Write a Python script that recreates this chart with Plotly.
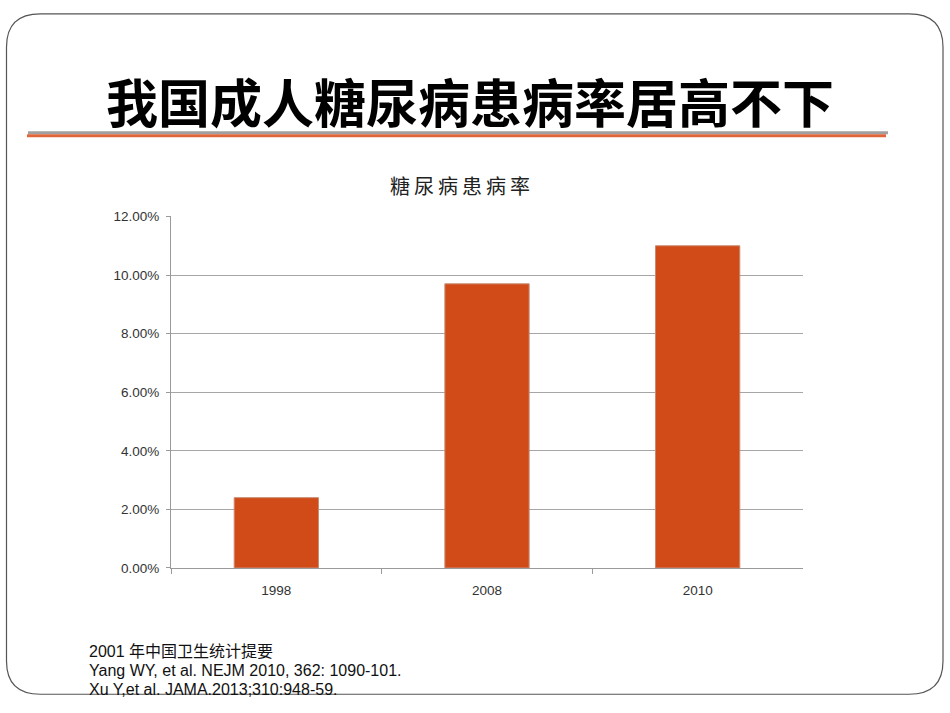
import plotly.graph_objects as go

W, H = 950, 713

categories = ["1998", "2008", "2010"]
prevalence = [0.024, 0.097, 0.110]
y_ticks = [0, 0.02, 0.04, 0.06, 0.08, 0.10, 0.12]
y_tick_labels = ["0.00%", "2.00%", "4.00%", "6.00%", "8.00%", "10.00%", "12.00%"]

slide_title = "我国成人糖尿病患病率居高不下"
chart_title = "糖尿病患病率"
footnotes = ["2001 年中国卫生统计提要",
             "Yang WY, et al. NEJM 2010, 362: 1090-101.",
             "Xu Y,et al. JAMA.2013;310:948-59."]

def px(x):
    return x / W

def py(y):
    return 1 - y / H

fig = go.Figure()
fig.add_trace(go.Bar(
    x=categories, y=prevalence,
    marker=dict(color="#D14B19", line=dict(color="#C98A70", width=1)),
    hoverinfo="x+y",
))

# plot area in pixels
L, R, T, B = 171, 803, 214, 573

fig.update_layout(
    width=W, height=H,
    margin=dict(l=0, r=0, t=0, b=0),
    paper_bgcolor="white", plot_bgcolor="white",
    showlegend=False,
    bargap=0.6,
    font=dict(family="Liberation Sans, Arial, sans-serif", color="#333333"),
    xaxis=dict(
        domain=[px(L), px(R)],
        type="category",
        showgrid=False,
        showline=True, linecolor="#9a9a9a", linewidth=1,
        ticks="outside", tickson="boundaries", ticklen=5, tickcolor="#9a9a9a",
        ticklabelstandoff=10,
        tickfont=dict(size=13.5, color="#333333"),
        zeroline=False,
    ),
    yaxis=dict(
        domain=[py(B), py(T)],
        range=[0, 0.12],
        tickvals=y_ticks, ticktext=y_tick_labels,
        showgrid=True, gridcolor="#a6a6a6", gridwidth=1,
        showline=True, linecolor="#9a9a9a", linewidth=1,
        ticks="outside", ticklen=4, tickcolor="#9a9a9a",
        ticklabelstandoff=4,
        tickfont=dict(size=13.5, color="#333333"),
        zeroline=False,
    ),
)

# slide border (rounded rectangle)
x0, x1, y0, y1, r = 6.5, 943, 7, 702, 34
path = (
    f"M {px(x0 + r)} {py(y0)} L {px(x1 - r)} {py(y0)} "
    f"Q {px(x1)} {py(y0)} {px(x1)} {py(y0 + r)} "
    f"L {px(x1)} {py(y1 - r)} "
    f"Q {px(x1)} {py(y1)} {px(x1 - r)} {py(y1)} "
    f"L {px(x0 + r)} {py(y1)} "
    f"Q {px(x0)} {py(y1)} {px(x0)} {py(y1 - r)} "
    f"L {px(x0)} {py(y0 + r)} "
    f"Q {px(x0)} {py(y0)} {px(x0 + r)} {py(y0)} Z"
)
fig.add_shape(type="path", path=path, xref="paper", yref="paper",
              line=dict(color="#555555", width=1.2), layer="above")

# title underlines
fig.add_shape(type="line", xref="paper", yref="paper",
              x0=px(28), x1=px(888), y0=py(128.5), y1=py(128.5),
              line=dict(color="#A0A0A0", width=3))
fig.add_shape(type="line", xref="paper", yref="paper",
              x0=px(27), x1=px(886), y0=py(131.5), y1=py(131.5),
              line=dict(color="#E0653A", width=3))

# slide title
fig.add_annotation(text=f"<b>{slide_title}</b>", xref="paper", yref="paper",
                   x=px(470), y=py(95), showarrow=False,
                   xanchor="center", yanchor="middle",
                   font=dict(family="Noto Sans CJK SC", size=52, color="black"))

# chart title (thin spaces to mimic wide letter spacing)
fig.add_annotation(text="\u2009".join(chart_title), xref="paper", yref="paper",
                   x=px(460), y=py(182), showarrow=False,
                   xanchor="center", yanchor="middle",
                   font=dict(family="Noto Sans CJK SC", size=20, color="#222222"))

# footnotes
for i, t in enumerate(footnotes):
    fig.add_annotation(text=t, xref="paper", yref="paper",
                       x=px(87), y=py(658 + i * 19.5), showarrow=False,
                       xanchor="left", yanchor="middle",
                       font=dict(family="Liberation Sans, Noto Sans CJK SC", size=16, color="#111111"))

fig.write_html("out.html")
